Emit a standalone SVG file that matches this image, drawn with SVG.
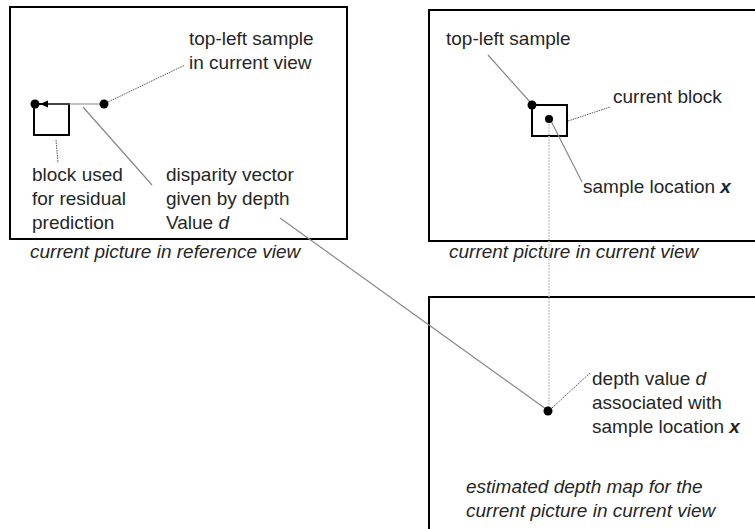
<svg xmlns="http://www.w3.org/2000/svg" width="755" height="529" viewBox="0 0 755 529">
<style>
.frame{fill:none;stroke:#000;stroke-width:2}
.blk{fill:none;stroke:#000;stroke-width:2}
.dot{fill:#000}
.t{font-family:"Liberation Sans",Arial,sans-serif;font-size:19px;fill:#262626}
.i{font-style:italic}
.b{font-weight:bold;font-style:italic}
.dotted{stroke:#555;stroke-width:1;stroke-dasharray:1.5 1;fill:none}
.solid{stroke:#888;stroke-width:1.2;fill:none}
.light{stroke:#ccc;stroke-width:1.5;stroke-dasharray:2 1;fill:none}
</style>
<rect width="755" height="529" fill="#fff"/>
<g id="ref-view">
<rect class="frame" x="10" y="7" width="337" height="232"/>
<rect class="blk" x="34" y="104" width="35" height="31"/>
<text class="t" x="189" y="45">top-left sample</text>
<text class="t" x="189" y="69">in current view</text>
<text class="t" x="32" y="181">block used</text>
<text class="t" x="32" y="205">for residual</text>
<text class="t" x="32" y="229">prediction</text>
<text class="t" x="166" y="181">disparity vector</text>
<text class="t" x="166" y="205">given by depth</text>
<text class="t" x="166" y="229">Value <tspan class="i">d</tspan></text>
<text class="t i" x="30" y="258">current picture in reference view</text>
</g>
<g id="cur-view">
<rect class="frame" x="429" y="10" width="330" height="231"/>
<rect class="blk" x="532" y="105" width="35" height="31"/>
<text class="t" x="446" y="45">top-left sample</text>
<text class="t" x="613" y="103">current block</text>
<text class="t" x="583" y="193">sample location <tspan class="b">x</tspan></text>
<text class="t i" x="449" y="258">current picture in current view</text>
</g>
<g id="depth-map">
<rect class="frame" x="429" y="297" width="330" height="240"/>
<text class="t" x="592" y="385">depth value <tspan class="i">d</tspan></text>
<text class="t" x="592" y="409">associated with</text>
<text class="t" x="592" y="433">sample location <tspan class="b">x</tspan></text>
<text class="t i" x="466" y="493">estimated depth map for the</text>
<text class="t i" x="466" y="517">current picture in current view</text>
</g>
<g id="connectors">
<line class="light" x1="549" y1="121" x2="549" y2="408"/>
<line class="solid" x1="104" y1="104" x2="46" y2="104"/>
<polygon points="40,104 48,100.5 48,107.5" fill="#000"/>
<line class="dotted" x1="106" y1="103" x2="185" y2="65"/>
<line class="dotted" x1="56" y1="140" x2="58" y2="163"/>
<line class="solid" x1="83" y1="107" x2="152" y2="185"/>
<line class="solid" x1="280" y1="218" x2="546" y2="409"/>
<line class="solid" x1="488" y1="55" x2="530" y2="102"/>
<line class="dotted" x1="568" y1="121" x2="610" y2="107"/>
<line class="solid" x1="551" y1="121" x2="582" y2="182"/>
<line class="dotted" x1="552" y1="408" x2="590" y2="373"/>
</g>
<g id="dots">
<circle class="dot" cx="35" cy="104" r="4.5"/>
<circle class="dot" cx="104" cy="104" r="4.5"/>
<circle class="dot" cx="532" cy="105" r="4.5"/>
<circle class="dot" cx="549" cy="119" r="4"/>
<circle class="dot" cx="548" cy="411" r="4.5"/>
</g>
</svg>
